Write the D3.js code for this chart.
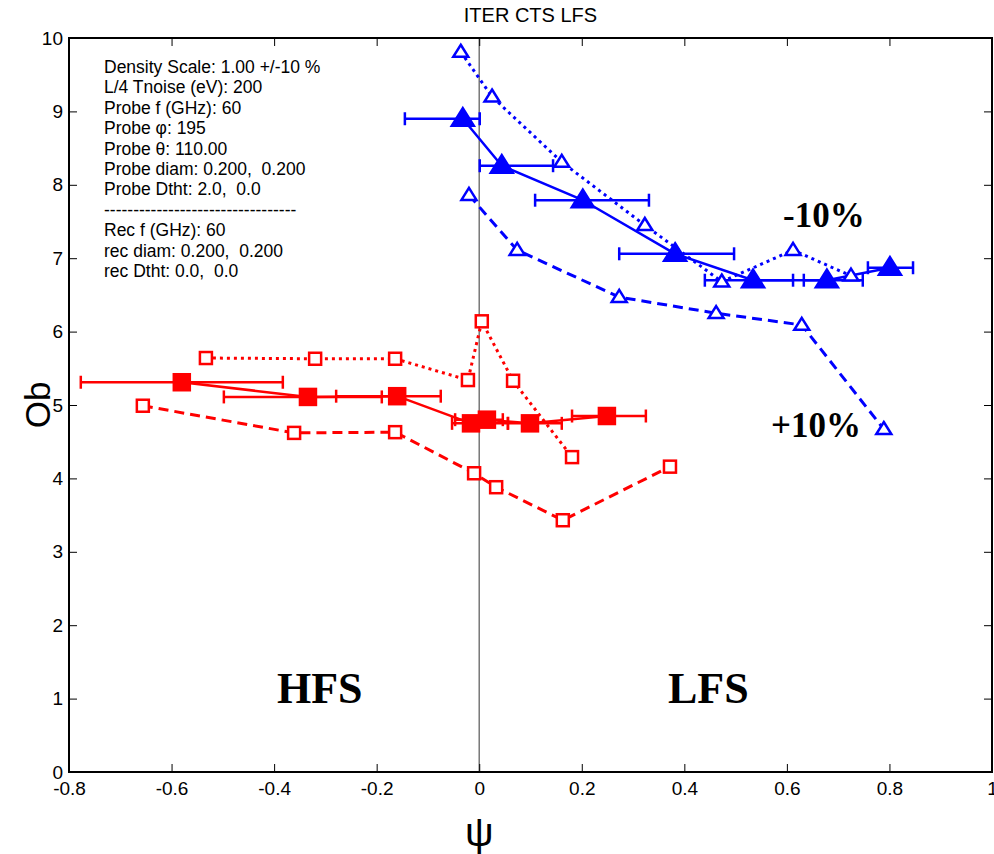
<!DOCTYPE html>
<html><head><meta charset="utf-8">
<script src="https://cdn.jsdelivr.net/npm/d3@7"></script>
<style>body{margin:0;background:#fff}svg{display:block}</style>
</head><body>
<svg id="c" width="994" height="854"></svg>
<script>
// ---- data ----
const xTicks = [-0.8,-0.6,-0.4,-0.2,0,0.2,0.4,0.6,0.8,1];
const yTicks = [0,1,2,3,4,5,6,7,8,9,10];

// blue, nominal density (filled triangles) with horizontal error bars
const blueX   = [-0.032, 0.044, 0.202, 0.382, 0.534, 0.678, 0.801];
const blueY   = [8.90, 8.26, 7.79, 7.06, 6.70, 6.70, 6.87];
const blueLo  = [-0.145, 0.001, 0.109, 0.273, 0.440, 0.633, 0.758];
const blueHi  = [0.001, 0.144, 0.331, 0.497, 0.612, 0.748, 0.846];
// blue -10% (dotted, open triangles)
const blueMinusX = [-0.036, 0.025, 0.161, 0.323, 0.473, 0.612, 0.725];
const blueMinusY = [9.81, 9.20, 8.31, 7.45, 6.68, 7.11, 6.76];
// blue +10% (dashed, open triangles)
const bluePlusX = [-0.020, 0.074, 0.273, 0.462, 0.629, 0.789];
const bluePlusY = [7.86, 7.11, 6.47, 6.25, 6.09, 4.67];

// red, nominal density (filled squares) with horizontal error bars
const redX  = [-0.580, -0.334, -0.160, -0.016, 0.015, 0.099, 0.249];
const redY  = [5.31, 5.11, 5.12, 4.75, 4.80, 4.75, 4.85];
const redLo = [-0.777, -0.498, -0.279, -0.053, -0.047, 0.056, 0.181];
const redHi = [-0.383, -0.190, -0.075, 0.056, 0.046, 0.161, 0.325];
// red -10% (dotted, open squares)
const redMinusX = [-0.533, -0.320, -0.164, -0.022, 0.005, 0.066, 0.181];
const redMinusY = [5.64, 5.63, 5.63, 5.34, 6.14, 5.33, 4.29];
// red +10% (dashed, open squares)
const redPlusX = [-0.656, -0.361, -0.164, -0.010, 0.033, 0.163, 0.372];
const redPlusY = [4.99, 4.62, 4.63, 4.07, 3.88, 3.43, 4.16];

const infoLines = [
  "Density Scale: 1.00 +/-10 %",
  "L/4 Tnoise (eV): 200",
  "Probe f (GHz): 60",
  "Probe \u03C6: 195",
  "Probe \u03B8: 110.00",
  "Probe diam: 0.200,  0.200",
  "Probe Dtht: 2.0,  0.0",
  "---------------------------------",
  "Rec f (GHz): 60",
  "rec diam: 0.200,  0.200",
  "rec Dtht: 0.0,  0.0"
];

// ---- drawing ----
const svg = d3.select("#c");
const L = 69, R = 992, T = 38, B = 772;
const x = d3.scaleLinear().domain([-0.8, 1]).range([L, R]);
const y = d3.scaleLinear().domain([0, 10]).range([B, T]);
const BLUE = "#0000ff", RED = "#ff0000";
const sans = "'Liberation Sans', Arial, Helvetica, sans-serif";
const serif = "'Liberation Serif', 'Times New Roman', serif";

// zero line
svg.append("line").attr("x1", x(0)).attr("x2", x(0)).attr("y1", T).attr("y2", B)
  .attr("stroke", "#777").attr("stroke-width", 1.5);

// axes
function styleAxis(g, labels) {
  g.select(".domain").remove();
  g.selectAll(".tick line").attr("stroke", "#000").attr("stroke-width", 1);
  g.selectAll(".tick text").attr("font-family", sans).attr("font-size", 19).attr("fill", "#000");
  if (!labels) g.selectAll(".tick text").remove();
}
const fmt = d => String(d);
svg.append("g").attr("transform", `translate(0,${B})`)
  .call(d3.axisBottom(x).tickValues(xTicks).tickFormat(fmt).tickSizeInner(-8).tickSizeOuter(0).tickPadding(10))
  .call(g => styleAxis(g, true));
svg.append("g").attr("transform", `translate(0,${T})`)
  .call(d3.axisTop(x).tickValues(xTicks).tickSizeInner(-8).tickSizeOuter(0))
  .call(g => styleAxis(g, false));
svg.append("g").attr("transform", `translate(${L},0)`)
  .call(d3.axisLeft(y).tickValues(yTicks).tickFormat(fmt).tickSizeInner(-8).tickSizeOuter(0).tickPadding(6))
  .call(g => styleAxis(g, true));
svg.append("g").attr("transform", `translate(${R},0)`)
  .call(d3.axisRight(y).tickValues(yTicks).tickSizeInner(-8).tickSizeOuter(0))
  .call(g => styleAxis(g, false));

// box
svg.append("rect").attr("x", L).attr("y", T).attr("width", R - L).attr("height", B - T)
  .attr("fill", "none").attr("stroke", "#000").attr("stroke-width", 2);

const line = d3.line().x(d => x(d[0])).y(d => y(d[1]));
const zip = (a, b) => a.map((v, i) => [v, b[i]]);

function drawLine(xs, ys, color, dash, w) {
  svg.append("path").datum(zip(xs, ys)).attr("d", line)
    .attr("fill", "none").attr("stroke", color).attr("stroke-width", w)
    .attr("stroke-dasharray", dash || null).attr("stroke-linejoin", "round");
}
function drawErr(xs, ys, lo, hi, color) {
  const g = svg.append("g").attr("stroke", color).attr("stroke-width", 2.5);
  xs.forEach((v, i) => {
    const yy = y(ys[i]);
    g.append("line").attr("x1", x(lo[i])).attr("x2", x(hi[i])).attr("y1", yy).attr("y2", yy);
    [lo[i], hi[i]].forEach(e => g.append("line").attr("x1", x(e)).attr("x2", x(e)).attr("y1", yy - 6.5).attr("y2", yy + 6.5));
  });
}
function tri(cx, cy, s) {
  const h = s * 0.8;
  return `M${cx},${cy - h * 0.6}L${cx + s / 2},${cy + h * 0.4}L${cx - s / 2},${cy + h * 0.4}Z`;
}
function drawTri(xs, ys, color, filled, s) {
  svg.append("g").selectAll("path").data(zip(xs, ys)).join("path")
    .attr("d", d => tri(x(d[0]), y(d[1]), s))
    .attr("fill", filled ? color : "#fff").attr("stroke", color).attr("stroke-width", 2.5)
    .attr("stroke-linejoin", "miter");
}
function drawSq(xs, ys, color, filled, s) {
  svg.append("g").selectAll("rect").data(zip(xs, ys)).join("rect")
    .attr("x", d => x(d[0]) - s / 2).attr("y", d => y(d[1]) - s / 2)
    .attr("width", s).attr("height", s)
    .attr("fill", filled ? color : "#fff").attr("stroke", color).attr("stroke-width", 2.5);
}

// red
drawLine(redMinusX, redMinusY, RED, "3,4", 3);
drawLine(redPlusX, redPlusY, RED, "10,6", 3);
drawErr(redX, redY, redLo, redHi, RED);
drawLine(redX, redY, RED, null, 2.5);
drawSq(redMinusX, redMinusY, RED, false, 12);
drawSq(redPlusX, redPlusY, RED, false, 12);
drawSq(redX, redY, RED, true, 16);

// blue
drawLine(blueMinusX, blueMinusY, BLUE, "3,4", 3);
drawLine(bluePlusX, bluePlusY, BLUE, "10,6", 3);
drawErr(blueX, blueY, blueLo, blueHi, BLUE);
drawLine(blueX, blueY, BLUE, null, 2.5);
drawTri(blueMinusX, blueMinusY, BLUE, false, 15);
drawTri(bluePlusX, bluePlusY, BLUE, false, 15);
drawTri(blueX, blueY, BLUE, true, 22);

// info text
const info = svg.append("text").attr("font-family", sans).attr("font-size", 17.5).attr("fill", "#000")
  .style("white-space", "pre");
infoLines.forEach((t, i) => info.append("tspan").attr("x", 104).attr("y", 73 + i * 20.4).text(t));

// annotations
const big = (t, xx, yy, size, anchor) => svg.append("text").attr("x", xx).attr("y", yy)
  .attr("font-family", serif).attr("font-weight", "bold").attr("font-size", size)
  .attr("text-anchor", anchor || "start").attr("fill", "#000").text(t);
big("-10%", 783, 227, 35);
big("+10%", 771, 437, 35);
big("HFS", 277, 703, 44);
big("LFS", 668, 703, 44);

// title and axis labels
svg.append("text").attr("x", (L + R) / 2).attr("y", 22).attr("text-anchor", "middle")
  .attr("font-family", sans).attr("font-size", 20).text("ITER CTS LFS");
svg.append("text").attr("transform", `translate(50,${(T + B) / 2}) rotate(-90)`).attr("text-anchor", "middle")
  .attr("font-family", sans).attr("font-size", 35).text("Ob");
svg.append("text").attr("x", x(0)).attr("y", 846).attr("text-anchor", "middle")
  .attr("font-family", sans).attr("font-size", 40).text("\u03C8");
</script>
</body></html>
